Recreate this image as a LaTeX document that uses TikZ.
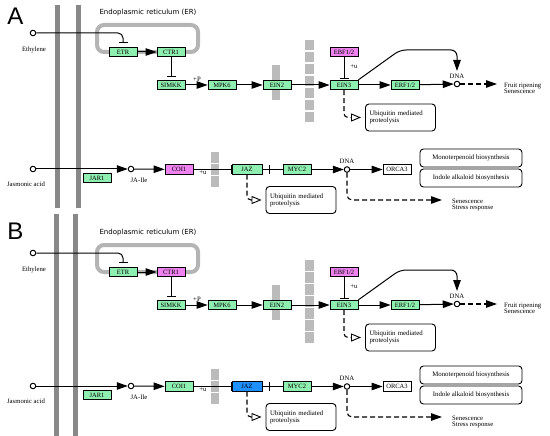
\documentclass[tikz,border=0pt]{standalone}
\usepackage{fontspec}
\setmainfont{Liberation Serif}
\newfontfamily\panelfont{Liberation Sans}
\newfontfamily\erfont{DejaVu Sans}
\usetikzlibrary{arrows.meta,calc}
\definecolor{gene}{HTML}{8FEFB0}
\definecolor{mag}{HTML}{EE82EE}
\definecolor{blu}{HTML}{1E90FF}
\definecolor{barg}{HTML}{888888}
\definecolor{trg}{HTML}{BBBBBB}
\definecolor{erg}{HTML}{B4B4B4}
\tikzset{
 gbox/.style={draw, line width=0.8pt, fill=gene, minimum width=28pt, minimum height=9.5pt, inner sep=0pt, font=\fontsize{6.5}{7}\selectfont},
 txt/.style={font=\fontsize{6.7}{6}\selectfont, inner sep=0pt},
 mol/.style={circle, draw, line width=1pt, fill=white, minimum size=5.5pt, inner sep=0pt},
 act/.style={line width=1pt, -{Triangle[length=11pt,width=7.5pt]}},
 inh/.style={line width=1pt, -{Bar[width=9pt,line width=1pt]}},
 dsh/.style={dash pattern=on 5pt off 3pt, line width=1.1pt},
 ubq/.style={line width=1.1pt, dash pattern=on 5pt off 3pt, rounded corners=4pt, shorten >=4pt, -{Triangle[open,length=10pt,width=8pt,line width=0.9pt]}},
 rbox/.style={draw, line width=0.9pt, rounded corners=3.5pt, fill=white, inner sep=0pt, font=\fontsize{6.8}{6}\selectfont},
 ubox/.style={rbox, text width=62pt, inner xsep=4pt, align=left, minimum height=27pt},
 bbox/.style={rbox, minimum width=102pt, minimum height=18pt},
 vbar/.style={barg, line width=5pt},
}
\newcommand\drawpanel[6]{%
\begin{scope}[shift={(0,#2)}]
 \fill[trg] (272,65) rectangle (280,100);
 \foreach \a in {40,52,64,76,88,100,112} {\fill[trg] (305,\a) rectangle (314,\a+10.5);}
 \draw[erg, line width=4pt, rounded corners=7pt] (97,25) rectangle (198,52);
 \node[font=\erfont\fontsize{7}{7}\selectfont] at (148,13) {Endoplasmic reticulum (ER)};
 \node[mol] (#1eth) at (33,33) {};
 \node[txt] at (34,50) {Ethylene};
 \node[gbox] (#1etr) at (123,52) {ETR};
 \node[gbox, fill=#4] (#1ctr) at (171,52) {CTR1};
 \node[gbox] (#1simkk) at (171,85) {SIMKK};
 \node[gbox] (#1mpk) at (222,85) {MPK6};
 \node[gbox] (#1ein2) at (277,85) {EIN2};
 \node[gbox] (#1ein3) at (344,85) {EIN3};
 \node[gbox, fill=mag] (#1ebf) at (344,52) {EBF1/2};
 \node[gbox] (#1erf) at (405,85) {ERF1/2};
 \node[mol] (#1dna) at (457,84) {};
 \node[txt] at (457,76) {DNA};
 \coordinate (#1fr) at (497,84);
 \coordinate (#1tip) at (457,71);
 \node[txt, anchor=west, align=left] at (504,88) {Fruit ripening\\Senescence};
 \node[ubox] (#1ub) at (400.5,117.5) {Ubiquitin mediated\\proteolysis};
 \draw[inh, rounded corners=5pt, shorten >=3.5pt] (#1eth) -| (#1etr.north);
 \draw[act] (#1etr) -- (#1ctr);
 \draw[inh, shorten >=2.5pt] (#1ctr) -- (#1simkk);
 \node[txt] at (197,79) {+P};
 \draw[act] (#1simkk) -- (#1mpk);
 \draw[act] (#1mpk) -- (#1ein2);
 \draw[act] (#1ein2) -- (#1ein3);
 \draw[inh, shorten >=0.5pt] (#1ebf) -- (#1ein3);
 \node[txt] at (354,67) {+u};
 \draw[act] (#1ein3) -- (#1erf);
 \draw[act] (#1erf) -- (#1dna);
 \draw[act, rounded corners=6pt] (#1ein3.north east) -- (400,50) -- (457,50) -- (#1tip);
 \draw[act, dsh] (#1dna) -- (#1fr);
 \draw[ubq] (#1ein3) |- (#1ub);
\end{scope}
\begin{scope}[shift={(0,#3)}]
 \foreach \a in {152,164,176} {\fill[trg] (211,\a) rectangle (219,\a+11);}
 \node[mol] (#1ja) at (33,169) {};
 \node[txt] at (26,184) {Jasmonic acid};
 \node[mol] (#1jai) at (131,169) {};
 \node[txt] at (139,180) {JA-Ile};
 \node[gbox] (#1jar) at (97,178) {JAR1};
 \node[gbox, fill=#5] (#1coi) at (179,169.5) {COI1};
 \node[gbox, fill=#6, minimum width=30pt] (#1jaz) at (247,169.5) {JAZ};
 \node[gbox] (#1myc) at (297,169.5) {MYC2};
 \node[mol] (#1dnab) at (347,169.5) {};
 \node[txt] at (347,161) {DNA};
 \node[gbox, fill=white] (#1orca) at (397,169.5) {ORCA3};
 \node[bbox] (#1mono) at (471,158) {Monoterpenoid biosynthesis};
 \node[bbox] (#1indo) at (471,178) {Indole alkaloid biosynthesis};
 \node[ubox] (#1ubb) at (301,200) {Ubiquitin mediated\\proteolysis};
 \coordinate (#1jb) at (270,169.5);
 \coordinate (#1sen) at (442,200);
 \node[txt, anchor=west, align=left] at (452,205) {Senescence\\Stress response};
 \draw[act] (#1ja) -- (#1jai);
 \draw[act] (#1jai) -- (#1coi);
 \draw[inh] (#1coi) -- (#1jaz);
 \node[txt] at (203,173) {+u};
 \draw[inh] (#1jaz) -- (#1jb);
 \draw[line width=1pt] (#1jb) -- (#1myc);
 \draw[act] (#1myc) -- (#1dnab);
 \draw[act] (#1dnab) -- (#1orca);
 \draw[act, dsh, rounded corners=5pt] (#1dnab) |- (#1sen);
 \draw[ubq] (#1jaz) |- (#1ubb);
\end{scope}
}
\begin{document}
\begin{tikzpicture}[x=1pt,y=-1pt]
\useasboundingbox (0,0) rectangle (550,436);
\fill[white] (0,0) rectangle (550,436);
% membrane bars
\draw[vbar] (57.5,5) -- (57.5,208);
\draw[vbar] (78,5) -- (78,208);
\draw[vbar] (56.5,214) -- (56.5,436);
\draw[vbar] (75.5,214) -- (75.5,436);
\node[font=\panelfont\fontsize{24}{24}\selectfont, inner sep=0pt] (la) at (15.5,16.5) {A};
\node[font=\panelfont\fontsize{24}{24}\selectfont, inner sep=0pt] (lb) at (15.5,231.5) {B};
\drawpanel{a}{0}{0}{gene}{mag}{gene}
\drawpanel{b}{220}{217}{mag}{gene}{blu}
\end{tikzpicture}
\end{document}
